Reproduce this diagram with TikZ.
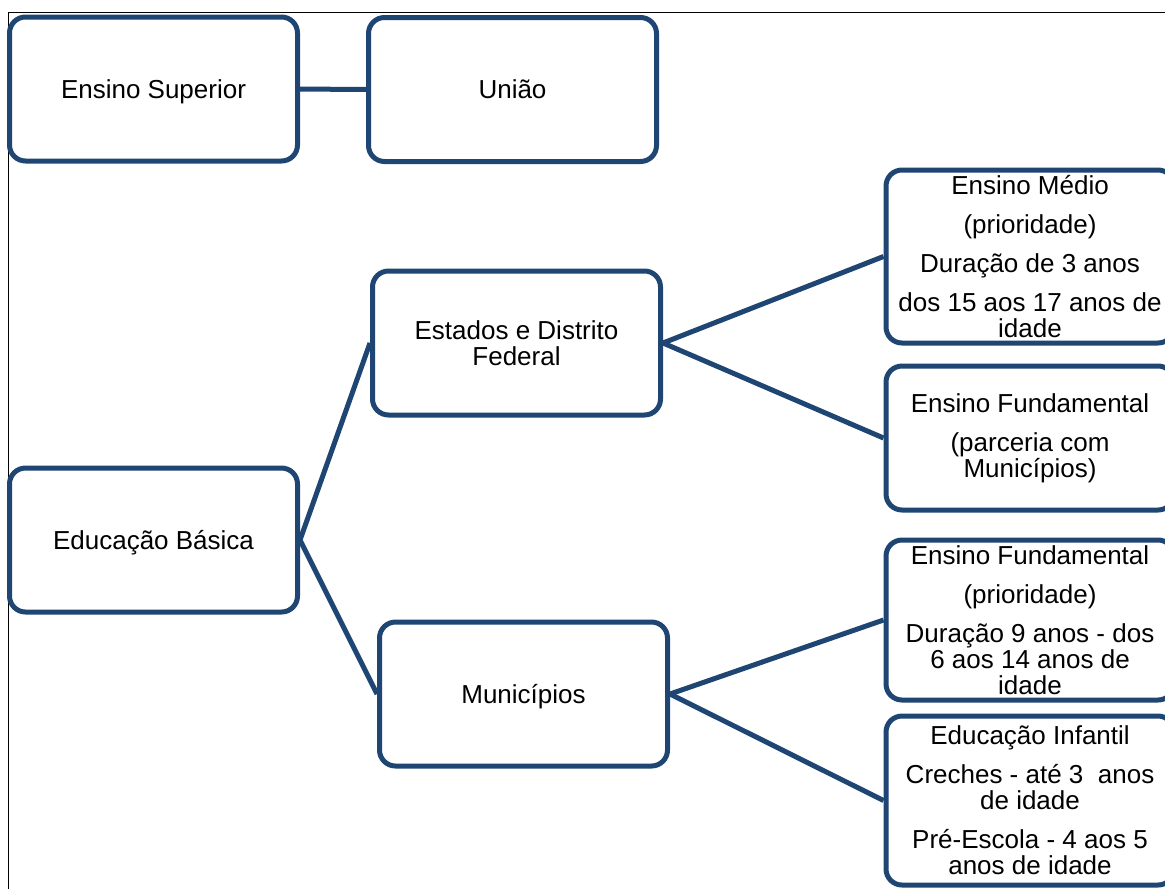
\documentclass[tikz,border=0pt]{standalone}
\usepackage{fontspec}
\setmainfont{Liberation Sans}
\usepackage{xcolor}
\usetikzlibrary{positioning}
\definecolor{frameblue}{RGB}{31,69,115}

\begin{document}
\begin{tikzpicture}[
  x=0.5pt, y=-0.5pt,
  unit/.style={draw=frameblue, line width=2.5pt, rounded corners=8pt, fill=white, minimum width=144pt, minimum height=72pt, inner sep=0pt, align=center, font=\fontsize{13}{13}\selectfont},
  level/.style={unit, text depth=0pt},
  stage/.style={unit},
  link/.style={draw=frameblue, line width=2.5pt}
]
  \useasboundingbox (0,0) rectangle (1165,889);
  \draw[line width=0.5pt] (8,889) -- (8,12) -- (1165,12);

  \node[level] (sup) at (153.5,89) {Ensino Superior};
  \node[level] (uniao) at (512.5,89.5) {União};
  \node[unit] (estados) at (516.5,343) {Estados e Distrito\\Federal};
  \node[level] (basica) at (153.5,540) {Educação Básica};
  \node[level] (munic) at (523.5,694) {Municípios};

  \node[stage, minimum height=86.5pt] (medio) at (1030,256.5) {Ensino Médio\\[6.5pt](prioridade)\\[6.5pt]Duração de 3 anos\\[6.5pt]dos 15 aos 17 anos de\\idade};
  \node[stage] (fundA) at (1030,438) {Ensino Fundamental\\[6.5pt](parceria com\\Municípios)};
  \node[stage, minimum height=80pt] (fundB) at (1030,620) {Ensino Fundamental\\[6.5pt](prioridade)\\[6.5pt]Duração 9 anos - dos\\6 aos 14 anos de\\idade};
  \node[stage, minimum height=84.5pt] (infantil) at (1030,800.5) {Educação Infantil\\[6.5pt]Creches - até 3 \ anos\\de idade\\[6.5pt]Pré-Escola - 4 aos 5\\anos de idade};

  \draw[link] (sup) -- (uniao);
  \draw[link] (basica.east) -- (estados.west);
  \draw[link] (basica.east) -- (munic.west);
  \draw[link] (estados.east) -- (medio.west);
  \draw[link] (estados.east) -- (fundA.west);
  \draw[link] (munic.east) -- (fundB.west);
  \draw[link] (munic.east) -- (infantil.west);
\end{tikzpicture}
\end{document}
